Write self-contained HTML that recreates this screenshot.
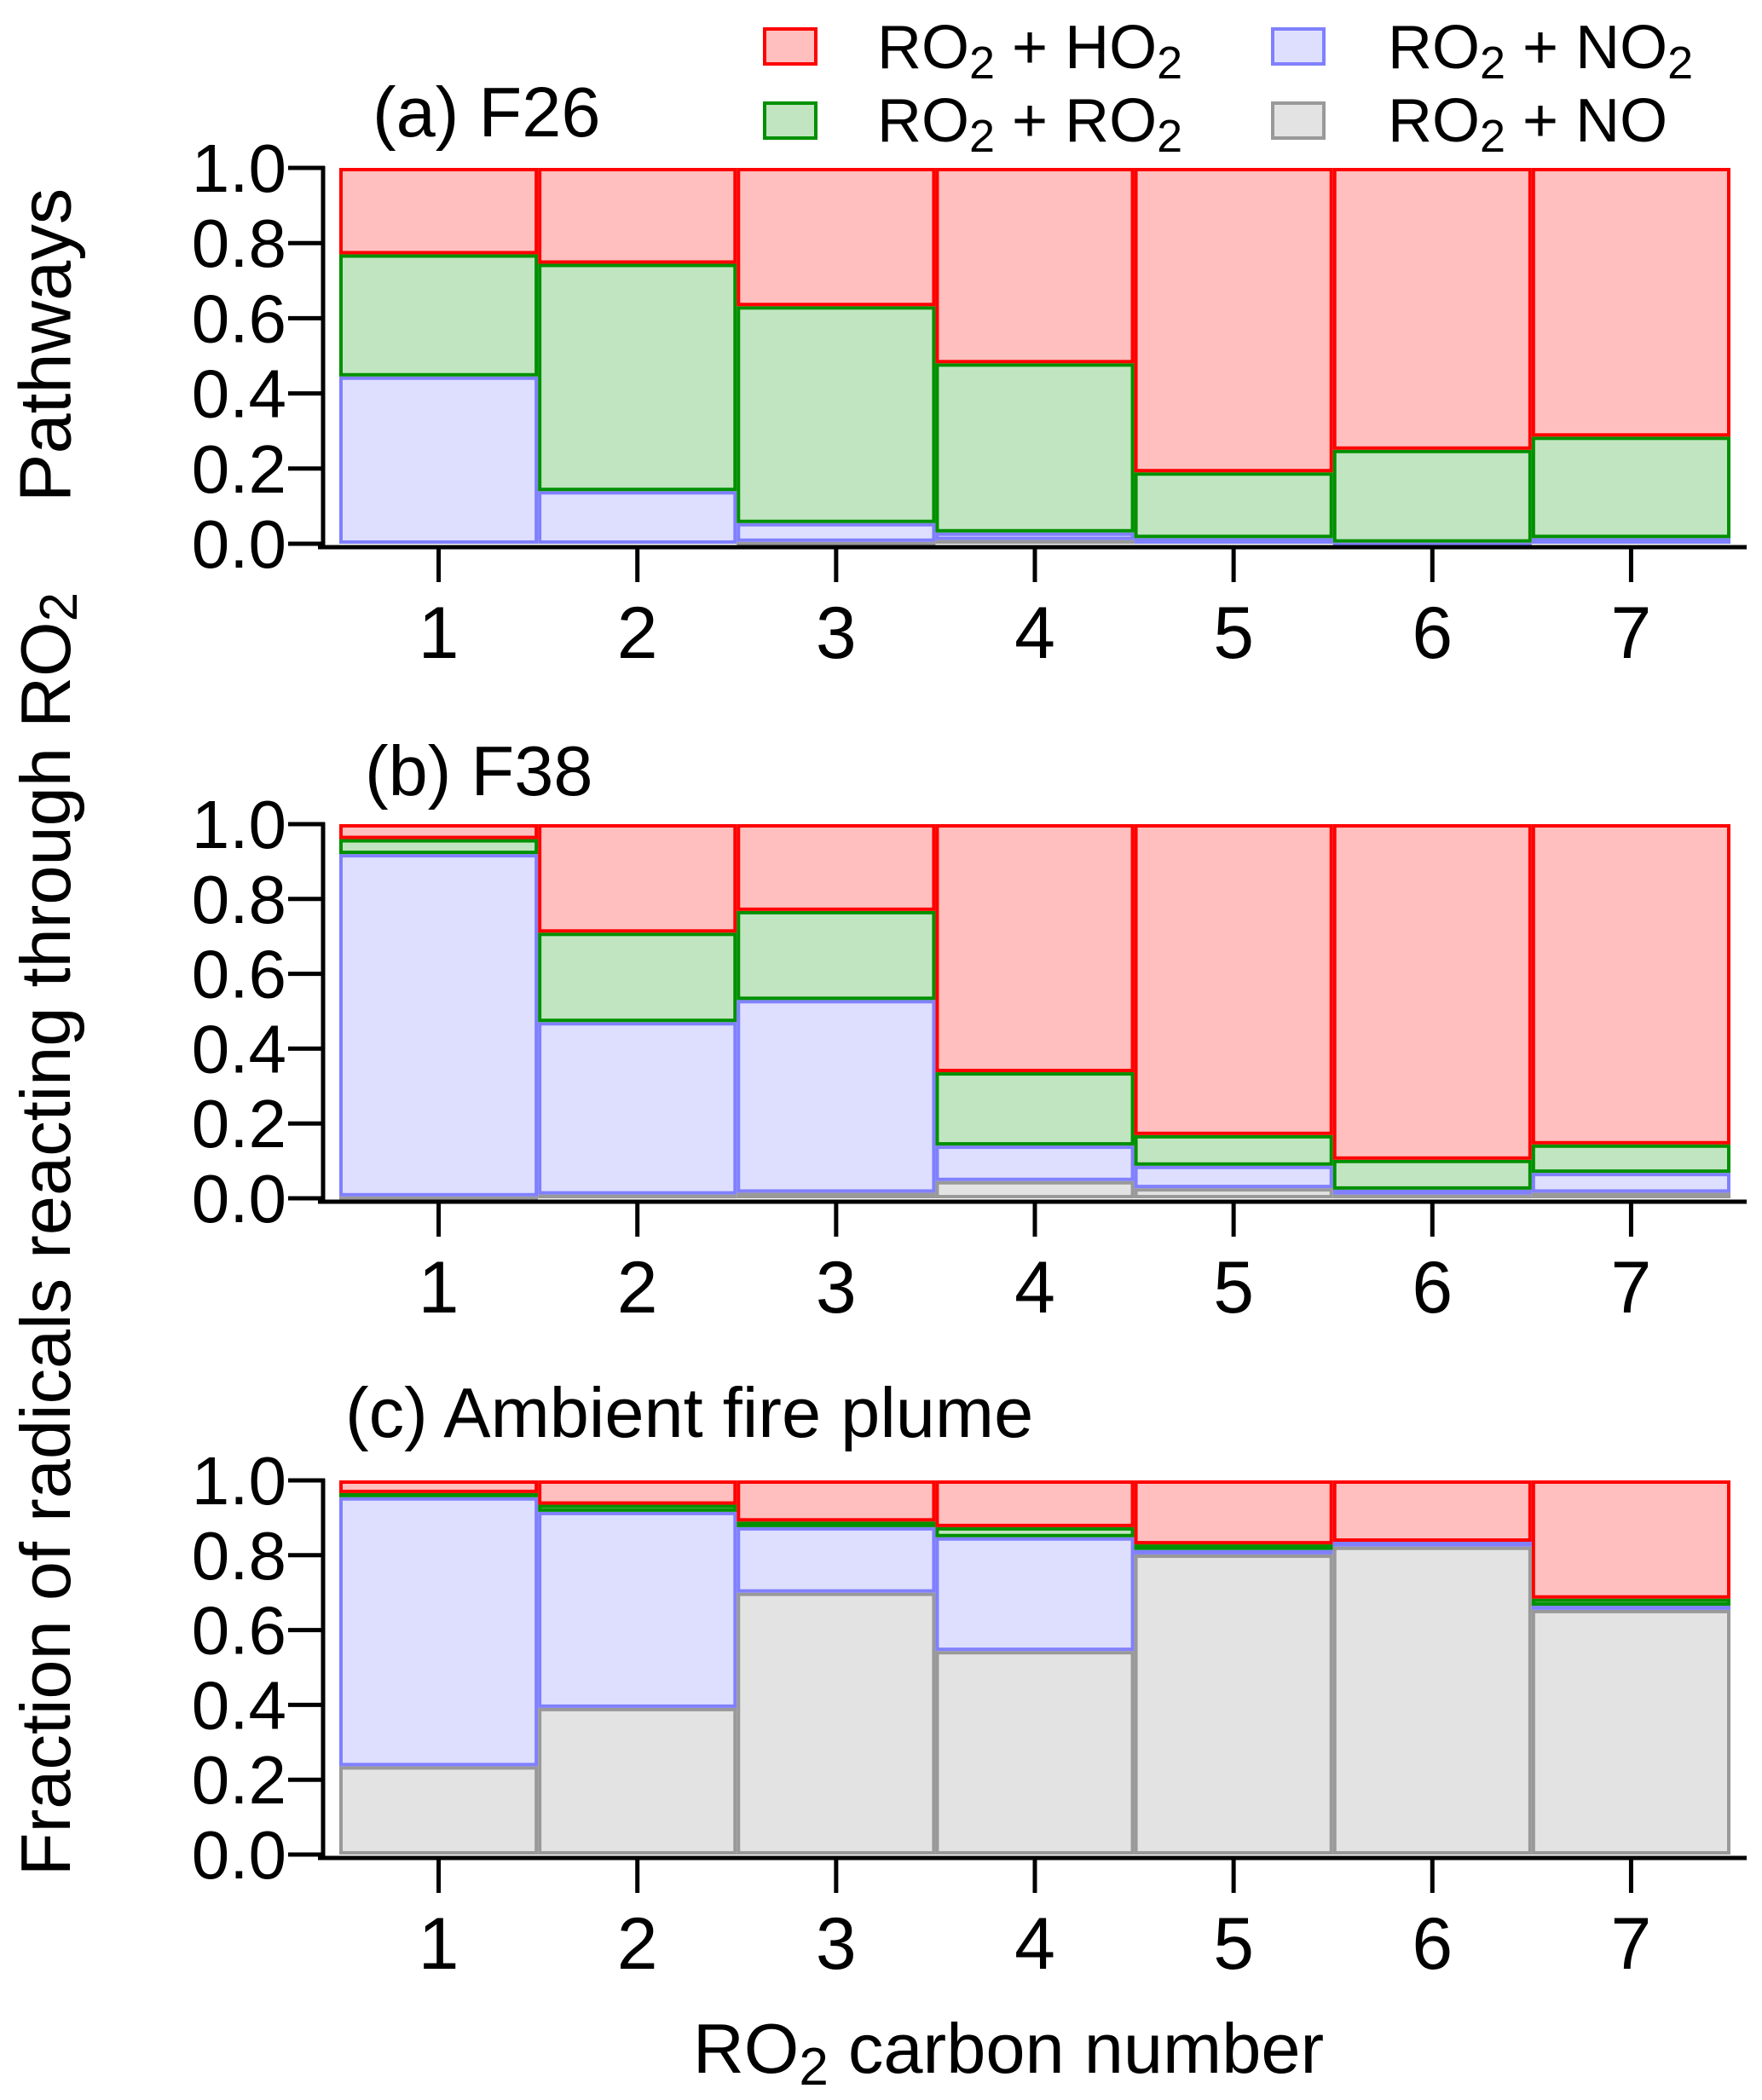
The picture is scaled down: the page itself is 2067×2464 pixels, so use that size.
<!DOCTYPE html>
<html><head><meta charset="utf-8"><style>
html,body{margin:0;padding:0;background:#fff;}
svg{display:block;font-family:"Liberation Sans",Arial,sans-serif;}
</style></head><body>
<svg id="chart" width="2067" height="2464" viewBox="0 0 2067 2464" xmlns="http://www.w3.org/2000/svg">
<g id="legend">
 <rect x="897" y="34" width="60" height="41" fill="#ffbfbf" stroke="#ff0000" stroke-width="4"/>
 <text x="1029" y="80" font-size="72">RO<tspan font-size="54" dy="12">2</tspan><tspan dy="-12"> + HO</tspan><tspan font-size="54" dy="12">2</tspan></text>
 <rect x="897" y="121" width="60" height="41" fill="#c0e5c0" stroke="#009000" stroke-width="4"/>
 <text x="1029" y="166" font-size="72">RO<tspan font-size="54" dy="12">2</tspan><tspan dy="-12"> + RO</tspan><tspan font-size="54" dy="12">2</tspan></text>
 <rect x="1493" y="34" width="60" height="41" fill="#dedfff" stroke="#8080ff" stroke-width="4"/>
 <text x="1628" y="80" font-size="72">RO<tspan font-size="54" dy="12">2</tspan><tspan dy="-12"> + NO</tspan><tspan font-size="54" dy="12">2</tspan></text>
 <rect x="1493" y="121" width="60" height="41" fill="#e3e3e3" stroke="#999999" stroke-width="4"/>
 <text x="1628" y="166" font-size="72">RO<tspan font-size="54" dy="12">2</tspan><tspan dy="-12"> + NO</tspan></text>
</g>
<text x="60" y="405" font-size="85" text-anchor="middle" transform="rotate(-90 60 405)" dominant-baseline="middle">Pathways</text>
<text x="60" y="1448" font-size="83" text-anchor="middle" transform="rotate(-90 60 1448)" dominant-baseline="middle">Fraction of radicals reacting through RO<tspan font-size="62" dy="14">2</tspan></text>
<text x="1183" y="2432" font-size="83" text-anchor="middle">RO<tspan font-size="62" dy="14">2</tspan><tspan dy="-14"> carbon number</tspan></text>
</svg>
<script>
// Data: segment fractions per carbon number (bottom->top: NO, NO2, RO2, HO2)
const categories = [1,2,3,4,5,6,7];
const yTicks = ["0.0","0.2","0.4","0.6","0.8","1.0"];
const yTickValues = [0,0.2,0.4,0.6,0.8,1.0];
const seriesNames = ["no","no2","ro2","ho2"];
// Panel (a) F26
const aNO  = [0.000,0.000,0.005,0.010,0.000,0.000,0.000];
const aNO2 = [0.445,0.140,0.050,0.020,0.015,0.003,0.015];
const aRO2 = [0.325,0.605,0.577,0.450,0.175,0.247,0.270];
const aHO2 = [0.230,0.255,0.368,0.520,0.810,0.750,0.715];
// Panel (b) F38
const bNO  = [0.005,0.010,0.015,0.046,0.027,0.010,0.015];
const bNO2 = [0.915,0.461,0.515,0.095,0.060,0.013,0.053];
const bRO2 = [0.040,0.239,0.238,0.196,0.082,0.080,0.076];
const bHO2 = [0.040,0.290,0.232,0.663,0.831,0.897,0.856];
// Panel (c) Ambient fire plume
const cNO  = [0.236,0.392,0.700,0.544,0.802,0.823,0.654];
const cNO2 = [0.719,0.524,0.175,0.304,0.012,0.013,0.011];
const cRO2 = [0.011,0.019,0.015,0.027,0.015,0.000,0.019];
const cHO2 = [0.034,0.065,0.110,0.125,0.171,0.164,0.316];

const fills = {no:"#e3e3e3",no2:"#dedfff",ro2:"#c0e5c0",ho2:"#ffbfbf"};
const strokes = {no:"#999999",no2:"#8080ff",ro2:"#009000",ho2:"#ff0000"};
const NS="http://www.w3.org/2000/svg";
const svg=document.getElementById('chart');
const panels=[
 {id:"a",title:"(a) F26",tx:437,ty:160,y1:197,y0:638,data:[aNO,aNO2,aRO2,aHO2]},
 {id:"b",title:"(b) F38",tx:428,ty:933,y1:967,y0:1406,data:[bNO,bNO2,bRO2,bHO2]},
 {id:"c",title:"(c) Ambient fire plume",tx:405,ty:1686,y1:1737,y0:2176,data:[cNO,cNO2,cRO2,cHO2]}
];
const xL=398,xR=2030,bw=(xR-xL)/categories.length;
function xScale(i){return xL+i*bw;}
function mk(tag,attrs,parent){const e=document.createElementNS(NS,tag);for(const k in attrs)e.setAttribute(k,attrs[k]);(parent||svg).appendChild(e);return e;}
panels.forEach(p=>{
 const yS=v=>p.y0-(p.y0-p.y1)*v;
 const g=mk('g',{});
 
 
 const t=mk('text',{x:p.tx,y:p.ty,'font-size':83},g);
 t.textContent=p.title;
 
 
 categories.forEach((c,i)=>{
  let cum=0;
  p.data.forEach((arr,s)=>{
   const v=arr[i];
   const top=cum+v;
   if(v>0){
    const yt=yS(top),yb=yS(cum);
    const r=mk('rect',{x:xScale(i)+2,y:yt+2,width:bw-4,height:Math.max(0.5,yb-yt-4),fill:fills[seriesNames[s]],stroke:strokes[seriesNames[s]],'stroke-width':4},g);
    
    
   }
   cum=top;
  });
 });
 const ya=mk('line',{x1:379,x2:379,y1:p.y1-2,y2:p.y0+6,stroke:'#000','stroke-width':5},g);
 
 
 yTickValues.forEach((v,k)=>{
  const y=yS(v);
  const tk=mk('line',{x1:338,x2:381,y1:y,y2:y,stroke:'#000','stroke-width':5},g);
  
  
  const lb=mk('text',{x:336,y:y+28,'font-size':80,'text-anchor':'end'},g);
  lb.textContent=yTicks[k];
  
  
 });
 const xa=mk('line',{x1:373,x2:2049,y1:p.y0+4,y2:p.y0+4,stroke:'#000','stroke-width':5},g);
 
 
 categories.forEach((c,i)=>{
  const x=xScale(i)+bw/2;
  const tk=mk('line',{x1:x,x2:x,y1:p.y0+4,y2:p.y0+45,stroke:'#000','stroke-width':5},g);
  
  
  const lb=mk('text',{x:x,y:p.y0+134,'font-size':86,'text-anchor':'middle'},g);
  lb.textContent=String(c);
  
  
 });
});
</script>
</body></html>
